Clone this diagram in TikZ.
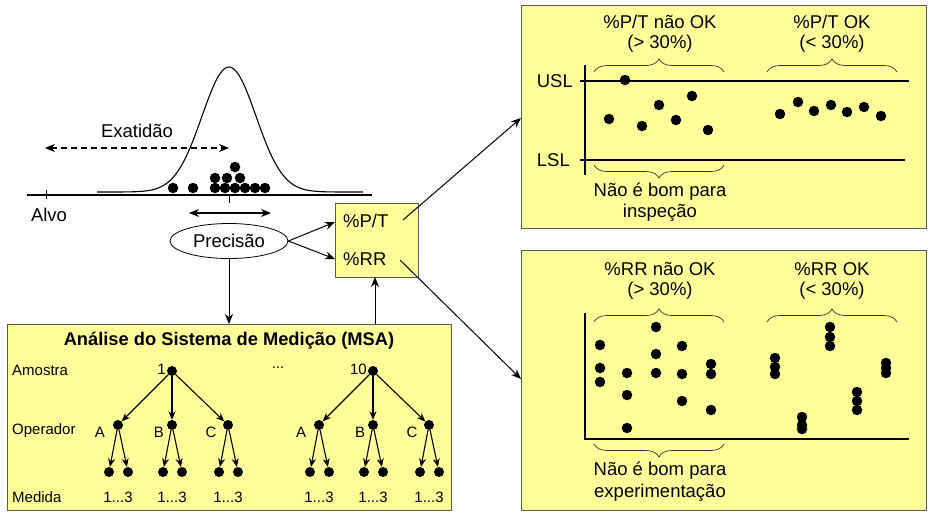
\documentclass[tikz,border=0pt]{standalone}
\usepackage{fontspec}
\setmainfont{Liberation Sans}
\usetikzlibrary{arrows.meta,shapes.geometric,decorations.pathreplacing}
\definecolor{ylw}{RGB}{255,255,153}
\tikzset{
  bigtxt/.style={font=\fontsize{18.5}{21}\selectfont, inner sep=0pt},
  smtxt/.style={font=\fontsize{15}{17}\selectfont, inner sep=0pt},
  dot/.style={circle, fill=black, inner sep=0pt, minimum size=10.5pt},
  tdot/.style={circle, fill=black, inner sep=0pt, minimum size=10pt},
  panel/.style={draw=black!65, fill=ylw, line width=0.9pt, inner sep=0pt},
  conn/.style={line width=1pt, -{Stealth[length=10pt,width=8pt]}},
  tarr/.style={line width=1.1pt, -{Stealth[length=8.5pt,width=7pt]}},
  brc/.style={decorate, decoration={brace, amplitude=13pt}, line width=0.7pt, draw=black!80},
  axisline/.style={line width=1.4pt},
}
\begin{document}
\begin{tikzpicture}[x=1pt,y=-1pt]
\useasboundingbox (0,0) rectangle (932,515);

% ---------- panels ----------
\node[panel, minimum width=405pt, minimum height=223pt, anchor=north west] (panel1) at (521,5) {};
\node[panel, minimum width=405pt, minimum height=260pt, anchor=north west] (panel2) at (521,250) {};
\node[panel, minimum width=444pt, minimum height=186pt, anchor=north west] (msa) at (7,324) {};
\node[panel, minimum width=83pt, minimum height=74pt, anchor=north west] (box) at (335,203) {};

% ---------- bell curve ----------
\draw[axisline] (27,195) -- (372,195);
\draw[line width=1pt] (46,190) -- (46,199);
\draw[line width=1pt] (229,195) -- (229,203);
\draw[line width=1.1pt] plot[domain=97:363, samples=150, smooth] (\x,{192-125*exp(-0.5*((\x-229)/27)^2)});
\foreach \px/\py in {173/188,193/188,215/188,225/188,235/188,245/188,255/188,265/188,215/178,227/178,240/178,235/167}
  \node[dot] at (\px,\py) {};
\node[bigtxt] (alvo) at (49,215) {Alvo};
\node[bigtxt] (exat) at (137,131) {Exatidão};
\coordinate (exl) at (45,148);
\coordinate (exr) at (229,148);
\draw[line width=1.1pt, dash pattern=on 6pt off 4pt, {Stealth[length=10pt,width=8pt]}-{Stealth[length=10pt,width=8pt]}] (exl) -- (exr);
\coordinate (prl) at (189,213);
\coordinate (prr) at (271,213);
\draw[line width=1.4pt, {Stealth[length=10pt,width=8pt]}-{Stealth[length=10pt,width=8pt]}] (prl) -- (prr);
\node[ellipse, draw, fill=white, line width=0.8pt, minimum width=118pt, minimum height=35pt, inner sep=0pt, font=\fontsize{18.5}{21}\selectfont] (prec) at (229,241) {Precisão};

% ---------- %P/T box ----------
\node[bigtxt, anchor=west] (pt) at (343,221) {\%P/T};
\node[bigtxt, anchor=west] (rr) at (343,259) {\%RR};
\coordinate (ptin) at (335,222);
\coordinate (rrin) at (335,259);
\draw[conn] (prec.east) -- (ptin);
\draw[conn] (prec.east) -- (rrin);
\coordinate (ptout) at (403,220);
\coordinate (rrout) at (400,260);
\coordinate (p1in) at (521,118);
\coordinate (p2in) at (521,379);
\draw[conn] (ptout) -- (p1in);
\draw[conn] (rrout) -- (p2in);
\draw[conn] (prec.south) -- (prec.south |- msa.north);
\coordinate (msaout) at (375,324);
\coordinate (boxin) at (375,277);
\draw[conn] (msaout) -- (boxin);

% ---------- MSA box ----------
\node[font=\fontsize{18.3}{21}\selectfont\bfseries, inner sep=0pt] (title) at (229,341) {Análise do Sistema de Medição (MSA)};
\node[smtxt, anchor=west] (amostra) at (12,370) {Amostra};
\node[smtxt, anchor=west] (operador) at (12,431) {Operador};
\node[smtxt, anchor=west] (medida) at (12,497) {Medida};
\node[smtxt] (dots) at (278,368) {...};
\foreach \t/\dx/\lab in {a/0/1,b/201/10}{
  \node[tdot] (\t-root) at (172+\dx,371) {};
  \node[smtxt, anchor=east] (\t-num) at (166+\dx,369) {\lab};
  \foreach \o/\ox/\lx in {A/118/-18,B/172/-13,C/228/-17}{
    \node[tdot] (\t-\o) at (\ox+\dx,425) {};
    \node[smtxt] (\t-\o-lab) at (\ox+\dx+\lx,432) {\o};
    \node[tdot] (\t-\o-1) at (\ox+\dx-9,472) {};
    \node[tdot] (\t-\o-2) at (\ox+\dx+10,472) {};
    \node[smtxt] (\t-\o-med) at (\ox+\dx,497) {1...3};
    \draw[tarr] (\t-root) -- (\t-\o);
    \draw[tarr] (\t-\o) -- (\t-\o-1);
    \draw[tarr] (\t-\o) -- (\t-\o-2);
  }
}

% ---------- panel 1 ----------
\node[bigtxt] (p1a) at (660,22) {\%P/T não OK};
\node[bigtxt] (p1b) at (660,44) {(> 30\%)};
\node[bigtxt] (p1c) at (832,22) {\%P/T OK};
\node[bigtxt] (p1d) at (832,44) {(< 30\%)};
\draw[brc] (594,72) -- (724,72);
\draw[brc] (767,72) -- (897,72);
\draw[axisline] (585,65) -- (585,175);
\draw[axisline] (580,81) -- (909,81);
\draw[axisline] (580,160) -- (905,160);
\node[bigtxt, anchor=east] (usl) at (573,81) {USL};
\node[bigtxt, anchor=east] (lsl) at (570,160) {LSL};
\draw[brc] (724,165) -- (594,165);
\node[bigtxt] (p1e) at (660,192) {Não é bom para};
\node[bigtxt] (p1f) at (660,213) {inspeção};
\foreach \px/\py in {625/80,609/119,642/126,659/105,676/120,692/96,708/130,
                     780/114,798/102,814/111,831/105,847/112,864/107,881/116}
  \node[dot] at (\px,\py) {};

% ---------- panel 2 ----------
\node[bigtxt] (p2a) at (660,269) {\%RR não OK};
\node[bigtxt] (p2b) at (660,291) {(> 30\%)};
\node[bigtxt] (p2c) at (832,269) {\%RR OK};
\node[bigtxt] (p2d) at (832,291) {(< 30\%)};
\draw[brc] (594,322) -- (724,322);
\draw[brc] (767,322) -- (897,322);
\draw[axisline] (585,313) -- (585,439) -- (909,439);
\draw[brc] (724,444) -- (594,444);
\node[bigtxt] (p2e) at (660,471) {Não é bom para};
\node[bigtxt] (p2f) at (660,493) {experimentação};
\foreach \px/\py in {600/345,600/368,600/382,
                     627/373,627/395,627/428,
                     656/327,656/354,656/373,
                     682/346,682/374,682/401,
                     711/364,711/374,711/410,
                     775/358,775/367,775/374,
                     802/417,802/425,802/429,
                     830/327,830/337,830/346,
                     857/392,857/401,857/410,
                     886/363,886/368,886/373}
  \node[dot] at (\px,\py) {};
\end{tikzpicture}
\end{document}
